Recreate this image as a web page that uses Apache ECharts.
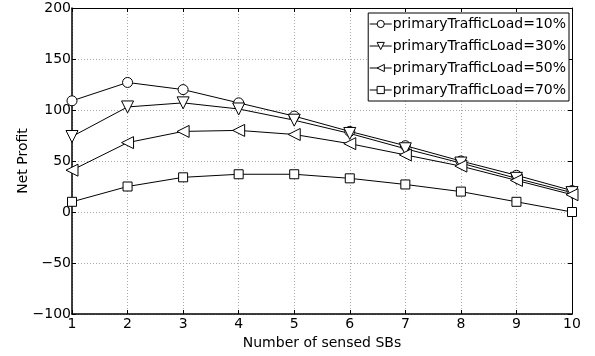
<!DOCTYPE html>
<html>
<head>
<meta charset="utf-8">
<script src="https://cdn.jsdelivr.net/npm/echarts@6/dist/echarts.min.js"></script>
<style>
  html, body { margin: 0; padding: 0; background: #fff; }
  #chart { width: 595px; height: 356px; }
</style>
</head>
<body>
<div id="chart"></div>
<script>
// Number of sensed SBs (x values)
const sensedSBs = [1, 2, 3, 4, 5, 6, 7, 8, 9, 10];

// Net profit per primary traffic load
const load10 = [109, 127, 120, 107, 94, 79, 65, 50, 36, 21];
const load30 = [74, 103, 107, 101, 90, 77, 62, 48, 33, 19];
const load50 = [41, 68, 79, 80, 76, 67, 56, 45, 31, 17];
const load70 = [10, 25, 34, 37, 37, 33, 27, 20, 10, 0];

const seriesNames = [
  'primaryTrafficLoad=10%',
  'primaryTrafficLoad=30%',
  'primaryTrafficLoad=50%',
  'primaryTrafficLoad=70%'
];

const yTicks = { min: -100, max: 200, step: 50 };

const font = 'DejaVu Sans, sans-serif';

function pairs(values) {
  return sensedSBs.map((x, i) => [x, values[i]]);
}

function makeSeries(name, values, symbol, size, rotate) {
  return {
    name: name,
    type: 'line',
    data: pairs(values),
    symbol: symbol,
    symbolSize: size,
    symbolRotate: rotate,
    showAllSymbol: true,
    lineStyle: { color: '#000', width: 1 },
    itemStyle: { color: '#fff', borderColor: '#000', borderWidth: 1 },
    emphasis: { disabled: true },
    animation: false,
    z: 3
  };
}

const chart = echarts.init(document.getElementById('chart'), null, { renderer: 'canvas' });

const tickStyle = { show: true, inside: true, length: 4, lineStyle: { color: '#000' } };
const gridStyle = { show: true, lineStyle: { color: '#aaa', type: [1, 2], width: 1 } };

chart.setOption({
  backgroundColor: '#fff',
  animation: false,
  grid: { left: 72, right: 23, top: 8, bottom: 42 },
  legend: {
    orient: 'vertical',
    right: 26,
    top: 13,
    itemWidth: 22,
    itemHeight: 9,
    itemGap: 8,
    padding: [4, 3, 4, 1],
    backgroundColor: '#fff',
    borderColor: '#000',
    borderWidth: 1,
    borderRadius: 0,
    lineStyle: { width: 1, color: '#000' },
    itemStyle: { borderWidth: 1, borderColor: '#000', color: '#fff' },
    textStyle: { fontFamily: font, fontSize: 14, color: '#000', padding: [0, 0, 0, -4] },
    data: seriesNames,
    selectedMode: false
  },
  xAxis: [
    {
      type: 'value',
      min: 1,
      max: 10,
      interval: 1,
      name: 'Number of sensed SBs',
      nameLocation: 'middle',
      nameGap: 22,
      nameMoveOverlap: false,
      nameTextStyle: { fontFamily: font, fontSize: 14, color: '#000' },
      axisLine: { show: true, onZero: false, lineStyle: { color: '#000', width: 1.5 } },
      axisTick: tickStyle,
      axisLabel: { fontFamily: font, fontSize: 14, color: '#000', margin: 3 },
      splitLine: gridStyle
    },
    {
      type: 'value',
      position: 'top',
      min: 1,
      max: 10,
      interval: 1,
      axisLine: { show: true, onZero: false, lineStyle: { color: '#000', width: 1 } },
      axisTick: tickStyle,
      axisLabel: { show: false },
      splitLine: { show: false }
    }
  ],
  yAxis: [
    {
      type: 'value',
      min: yTicks.min,
      max: yTicks.max,
      interval: yTicks.step,
      name: 'Net Profit',
      nameLocation: 'middle',
      nameGap: 42,
      nameMoveOverlap: false,
      nameTextStyle: { fontFamily: font, fontSize: 14, color: '#000' },
      axisLine: { show: true, onZero: false, lineStyle: { color: '#000', width: 1.5 } },
      axisTick: tickStyle,
      axisLabel: {
        fontFamily: font, fontSize: 14, color: '#000', margin: 1,
        formatter: v => String(v).replace('-', '\u2212')
      },
      splitLine: gridStyle
    },
    {
      type: 'value',
      position: 'right',
      min: yTicks.min,
      max: yTicks.max,
      interval: yTicks.step,
      axisLine: { show: true, onZero: false, lineStyle: { color: '#000', width: 1 } },
      axisTick: tickStyle,
      axisLabel: { show: false },
      splitLine: { show: false }
    }
  ],
  series: [
    makeSeries(seriesNames[0], load10, 'circle', 10, 0),
    makeSeries(seriesNames[1], load30, 'triangle', 12, 180),
    makeSeries(seriesNames[2], load50, 'triangle', 12, 90),
    makeSeries(seriesNames[3], load70, 'rect', 9, 0)
  ]
});
</script>
</body>
</html>
